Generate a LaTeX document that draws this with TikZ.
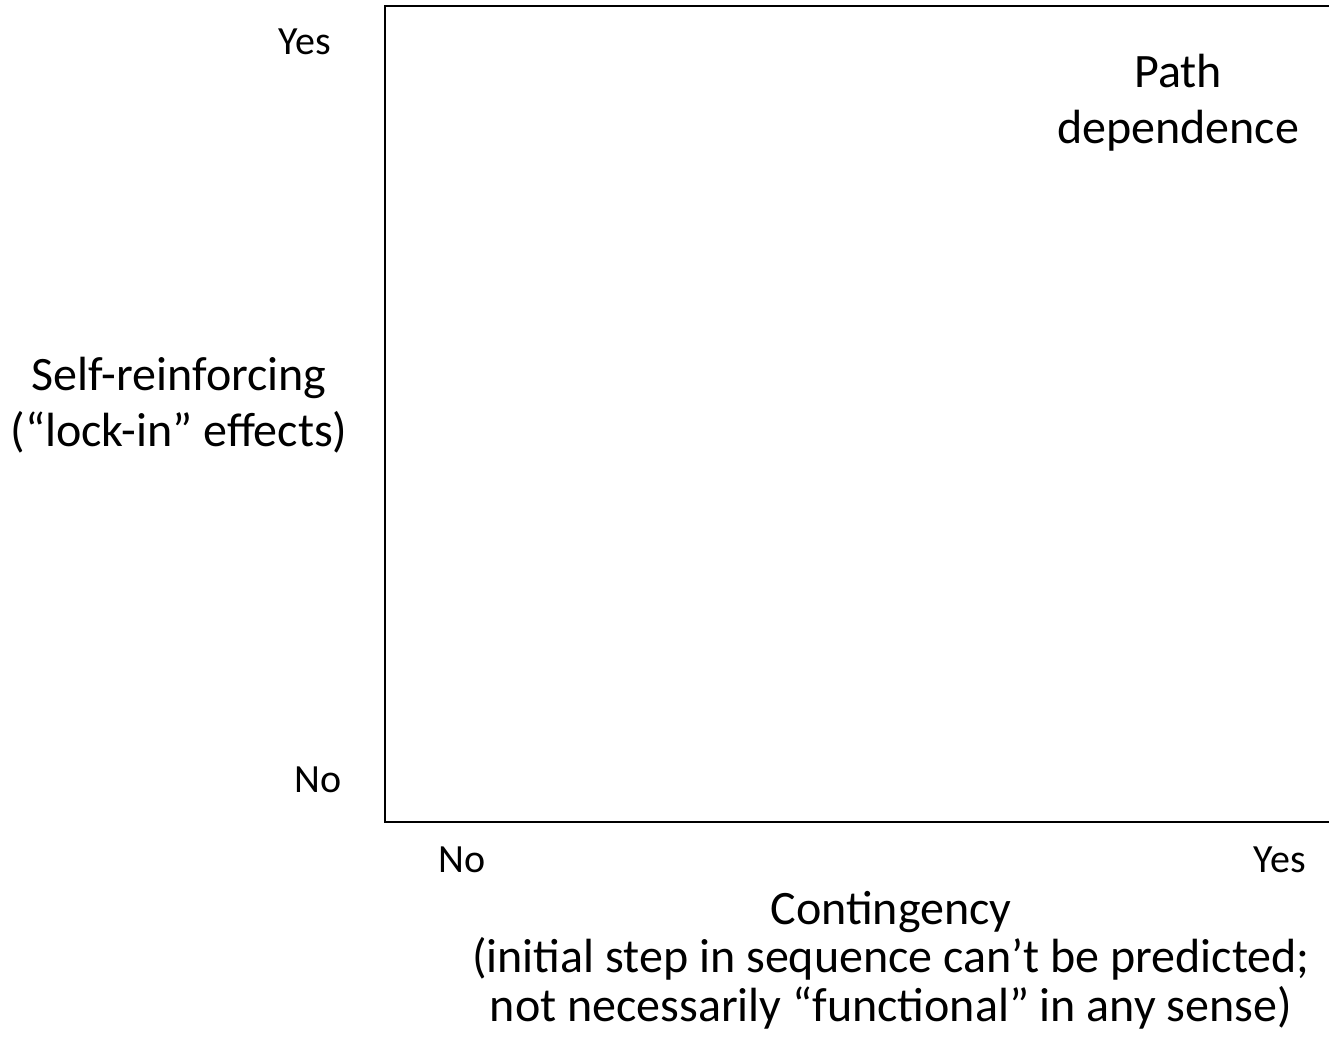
\documentclass[tikz,border=0pt]{standalone}
\usepackage{fontspec}
\setmainfont{Carlito}
\begin{document}
\begin{tikzpicture}[x=1pt,y=-1pt,
  lbl/.style={inner sep=0pt,font=\fontsize{40}{55}\selectfont,align=center},
  big/.style={inner sep=0pt,font=\fontsize{48}{56}\selectfont,align=center},
  bigc/.style={inner sep=0pt,font=\fontsize{48}{48.5}\selectfont,align=center}]
\useasboundingbox (0,0) rectangle (1329,1047);
\coordinate (tl) at (385,6);
\coordinate (bl) at (385,822);
\coordinate (tr) at (1335,6);
\coordinate (br) at (1335,822);
\draw[line width=2.2pt] (tr) -- (tl) -- (bl) -- (br);
\node[lbl] (yesl) at (305,42) {Yes};
\node[lbl] (nol) at (318,780) {No};
\node[lbl] (nob) at (462,860) {No};
\node[lbl] (yesb) at (1280,860) {Yes};
\node[big] (path) at (1178,103) {Path\\dependence};
\node[big] (self) at (179,405) {Self-reinforcing\\(“lock-in” effects)};
\node[bigc] (cont) at (891,960) {Contingency\\(initial step in sequence can’t be predicted;\\not necessarily “functional” in any sense)};
\end{tikzpicture}
\end{document}
